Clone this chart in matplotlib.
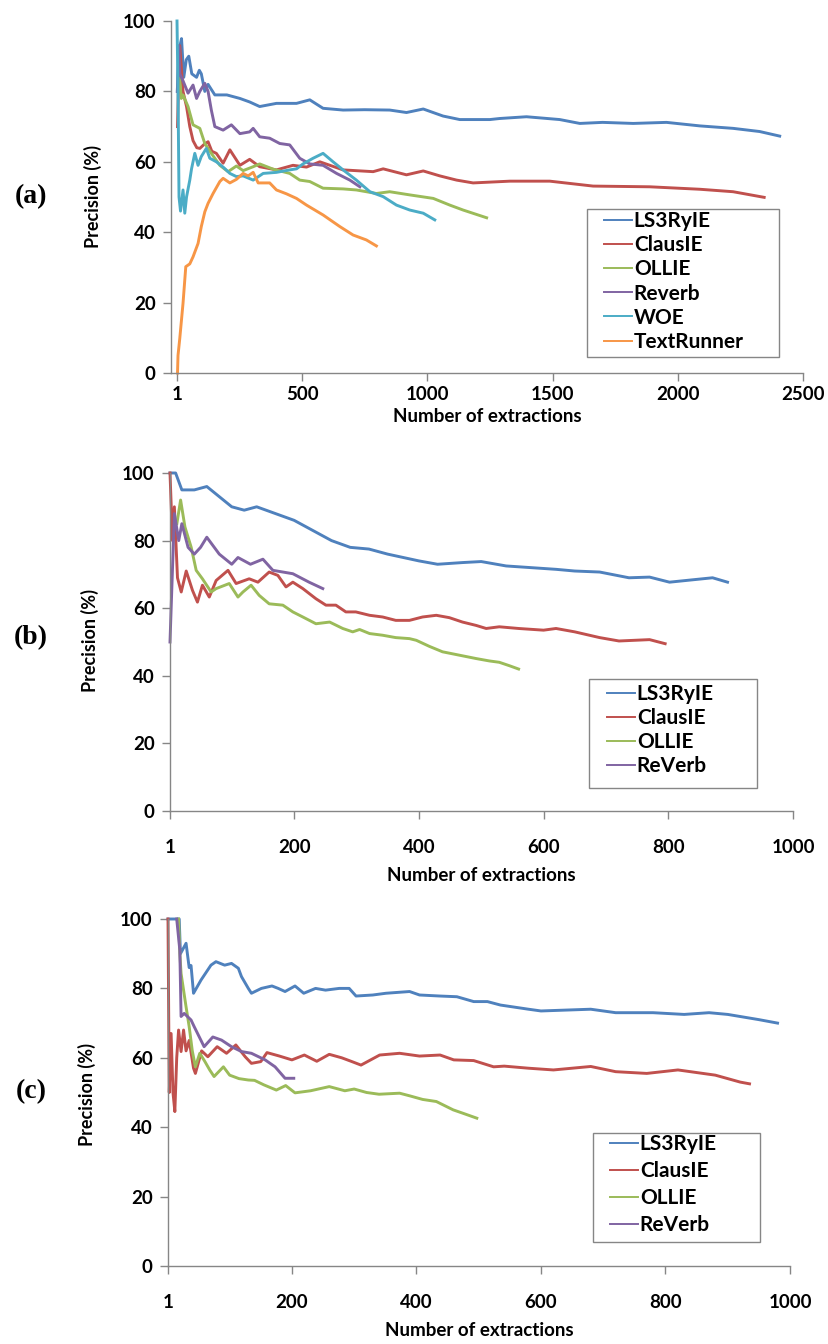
import numpy as np, matplotlib
matplotlib.use('Agg')
import matplotlib.pyplot as plt
from matplotlib.patches import Rectangle

plt.rcParams['font.family'] = ['Lato', 'DejaVu Sans']
plt.rcParams['font.weight'] = 'bold'

BLUE = '#4F81BD'
RED = '#C0504D'
GREEN = '#9BBB59'
PURPLE = '#8064A2'
AQUA = '#4BACC6'
ORANGE = '#F79646'
AXC = '#868686'

# ---- panel (a) ----
a_ls3_x = [2, 10, 19, 28, 38, 48, 60, 79, 90, 98, 112, 125, 152, 200, 252, 291, 331, 398, 478, 531,
           584, 664, 750, 850, 917, 984, 1063, 1130, 1250, 1289, 1396, 1529, 1609, 1700, 1822, 1955,
           2088, 2221, 2327, 2407]
a_ls3_y = [80, 92, 95, 84, 89, 90, 85, 84, 86, 85, 80, 82, 79, 79, 78, 77, 75.7, 76.6, 76.6, 77.6,
           75.2, 74.7, 74.8, 74.7, 74, 75, 73, 72, 72, 72.3, 72.8, 72, 70.9, 71.2, 70.9, 71.2,
           70.2, 69.5, 68.6, 67.3]
a_claus_x = [3, 8, 12, 25, 39, 52, 65, 80, 92, 110, 125, 140, 158, 185, 212, 252, 291, 331, 398, 464,
             518, 571, 664, 784, 824, 917, 984, 1050, 1117, 1183, 1330, 1489, 1662, 1888, 2088, 2221, 2345]
a_claus_y = [70, 85, 93, 80, 75.7, 70, 66, 64, 63.8, 65, 65.7, 63, 62.4, 59.6, 63.4, 59, 60.7, 58.6, 57.7, 59,
             58.5, 60, 57.7, 57.2, 58, 56.3, 57.4, 56, 54.8, 54, 54.5, 54.5, 53.1, 52.9, 52.2, 51.5, 49.9]
a_ollie_x = [10, 18, 25, 45, 65, 92, 112, 138, 172, 205, 238, 265, 305, 331, 385, 451, 491, 531, 584, 664,
             717, 797, 850, 930, 1024, 1090, 1143, 1237]
a_ollie_y = [85, 78, 79, 75.7, 70.5, 69.5, 65.2, 62.4, 59, 57.2, 58.8, 57.5, 58.6, 59.4, 57.9, 56.7, 54.8,
             54.4, 52.5, 52.3, 52, 51, 51.5, 50.6, 49.6, 47.7, 46.3, 44.1]
a_reverb_x = [3, 8, 12, 25, 45, 65, 79, 92, 112, 125, 138, 152, 185, 218, 252, 291, 305, 331, 371, 411,
              451, 491, 531, 584, 638, 691, 731]
a_reverb_y = [80, 93, 85, 83, 79.5, 81.8, 78, 80, 82.3, 80, 74.7, 70, 69, 70.5, 68, 68.5, 69.5, 67.1, 66.7,
              65.2, 64.8, 61, 59.4, 59, 56.7, 54.8, 52.9]
a_woe_x = [1, 5, 9, 15, 25, 32, 39, 52, 59, 72, 85, 98, 118, 132, 158, 185, 212, 238, 265, 305,
           345, 398, 451, 478, 504, 544, 584, 624, 664, 717, 771, 824, 877, 930, 984, 1030]
a_woe_y = [100, 80, 50, 46, 52, 45.4, 50, 54.8, 58, 62.4, 59, 61.5, 63.8, 61, 60, 58.5, 56.7, 55.8, 56, 54.8,
           56.7, 57, 57.7, 58, 59.4, 61, 62.4, 60, 57.7, 54.8, 51.5, 50.1, 47.7, 46.3, 45.4, 43.5]
a_tr_x = [3, 5, 12, 25, 36, 52, 65, 85, 98, 112, 125, 145, 172, 185, 212, 238, 265, 285, 305, 325,
          371, 398, 438, 478, 518, 584, 651, 704, 757, 797]
a_tr_y = [0, 5, 9.8, 19.8, 30.2, 31, 33, 36.8, 41.6, 45.8, 48.2, 51, 54.4, 55.3, 54, 55, 56.7, 56, 57, 54,
          54, 52, 50.9, 49.6, 47.7, 44.9, 41.6, 39.2, 37.8, 36.1]

# ---- panel (b) ----
b_ls3_x = [1, 10, 20, 40, 60, 80, 100, 120, 140, 170, 200, 230, 260, 290, 320, 350, 400, 430, 470, 500,
           540, 580, 620, 650, 690, 737, 770, 802, 839, 871, 895]
b_ls3_y = [100, 100, 95, 95, 96, 93, 90, 89, 90, 88, 86, 83, 80, 78, 77.5, 76, 74, 73, 73.5, 73.8,
           72.5, 72, 71.5, 71, 70.7, 69, 69.2, 67.7, 68.4, 69, 67.7]
b_claus_x = [1, 5, 8, 13, 19, 27, 37, 45, 53, 64, 75, 94, 107, 128, 142, 160, 174, 187, 198, 214,
             235, 251, 267, 283, 299, 321, 342, 363, 385, 406, 428, 449, 470, 492, 508, 529, 560, 600,
             620, 650, 690, 721, 770, 795]
b_claus_y = [100, 80, 90, 69, 64.8, 71, 65.3, 61.8, 66.8, 63.3, 68.2, 71.2, 67.3, 68.7, 67.7, 70.7, 69.7,
             66.3, 67.7, 65.8, 62.8, 60.9, 60.9, 58.9, 58.9, 57.9, 57.4, 56.4, 56.4, 57.4, 57.9, 57.2,
             55.9, 54.9, 54, 54.5, 54, 53.5, 54, 53, 51.3, 50.3, 50.7, 49.5]
b_ollie_x = [12, 18, 25, 35, 43, 53, 67, 75, 96, 110, 118, 131, 144, 160, 182, 198, 214, 235, 257, 278,
             294, 305, 321, 342, 363, 385, 396, 417, 438, 465, 492, 513, 529, 545, 560]
b_ollie_y = [85, 92, 84, 78, 71.2, 68.7, 64.8, 65.8, 67.3, 63.3, 64.8, 66.8, 63.8, 61.3, 60.9, 58.9, 57.4,
             55.4, 55.9, 54, 53, 53.7, 52.5, 52, 51.3, 51, 50.5, 48.7, 47.1, 46.1, 45.1, 44.4, 44, 43, 42]
b_reverb_x = [1, 8, 15, 20, 30, 40, 50, 60, 80, 100, 110, 130, 150, 166, 198, 224, 246]
b_reverb_y = [50, 88, 80, 85, 78, 76, 78, 81, 76, 73, 75, 73, 74.5, 71.2, 70.2, 67.7, 65.8]

# ---- panel (c) ----
c_ls3_x = [1, 19, 21, 30, 35, 38, 42, 54, 70, 78, 92, 103, 114, 119, 130, 135, 151, 168, 178, 189,
           205, 219, 238, 254, 276, 292, 303, 330, 351, 389, 405, 438, 465, 492, 514, 535, 580, 600,
           680, 720, 780, 830, 870, 900, 950, 980]
c_ls3_y = [100, 100, 90, 93, 86, 86.6, 78.6, 82.4, 86.7, 87.7, 86.7, 87.2, 85.8, 83.4, 80, 78.6, 80, 80.7,
           80, 79.1, 80.7, 78.6, 80, 79.5, 80, 80, 77.8, 78.1, 78.6, 79.1, 78.1, 77.8, 77.6, 76.2, 76.2,
           75.2, 74, 73.5, 74, 73, 73, 72.5, 73, 72.5, 71, 70]
c_claus_x = [1, 3, 6, 9, 12, 15, 18, 22, 26, 30, 35, 42, 45, 55, 65, 80, 95, 110, 125, 135,
             150, 160, 180, 200, 220, 240, 260, 280, 295, 311, 341, 373, 405, 438, 460, 492, 524, 541,
             580, 620, 680, 720, 770, 820, 880, 920, 935]
c_claus_y = [100, 50, 67, 50, 44.5, 60, 68, 61.8, 68, 62, 65, 57, 55.5, 62, 60.3, 63.2, 61.3, 63.7, 60.3,
             58.4, 58.9, 61.5, 60.5, 59.4, 60.8, 59, 61, 60, 59, 57.9, 60.8, 61.3, 60.5, 60.8, 59.4, 59.2,
             57.4, 57.6, 57, 56.5, 57.5, 56, 55.5, 56.5, 55, 53, 52.5]
c_ollie_x = [18, 20, 22, 30, 35, 40, 45, 52, 60, 68, 75, 90, 100, 115, 130, 140, 155, 175, 190, 205,
             230, 260, 285, 300, 320, 340, 373, 390, 410, 432, 459, 475, 497]
c_ollie_y = [100, 90, 84.3, 74.7, 69, 62, 57.4, 61.3, 59, 56.5, 54.6, 57.4, 55, 54, 53.6, 53.5, 52.2, 50.7,
             52, 49.9, 50.5, 51.7, 50.5, 51, 50, 49.5, 49.8, 49, 48, 47.4, 45, 44, 42.6]
c_reverb_x = [15, 20, 22, 27, 38, 43, 59, 73, 87, 103, 119, 135, 157, 173, 189, 203]
c_reverb_y = [100, 91, 71.9, 72.8, 70.9, 69, 63.2, 66, 65.1, 63.2, 61.8, 61.3, 59.4, 57.4, 54.1, 54.1]

W, H = 829, 1344
fig = plt.figure(figsize=(W / 100, H / 100), dpi=100)


def px_axes(l, r, t, b):
    return fig.add_axes([l / W, 1 - b / H, (r - l) / W, (b - t) / H])


def style(ax, xlim, xticks, xpad, lpad):
    ax.set_xlim(*xlim)
    ax.set_ylim(0, 100)
    ax.set_xticks(xticks)
    ax.set_yticks(range(0, 101, 20))
    for s in ['top', 'right']:
        ax.spines[s].set_visible(False)
    for s in ['left', 'bottom']:
        ax.spines[s].set_color(AXC)
        ax.spines[s].set_linewidth(1.0)
    ax.tick_params(direction='out', length=6, width=1, color=AXC, labelsize=13.5)
    ax.tick_params(axis='y', pad=5)
    ax.tick_params(axis='x', pad=xpad)
    ax.set_xlabel('Number of extractions', fontsize=13.5, fontweight='bold', labelpad=lpad)


def legend(ax, box, hx, ty, spacing):
    # box = (left, top, right, bottom) of the grey frame in pixels
    l, t, r, b = box
    ax.add_patch(Rectangle((l / W, 1 - b / H), (r - l) / W, (b - t) / H, transform=fig.transFigure,
                           facecolor='white', edgecolor=AXC, lw=1.0, zorder=4, clip_on=False))
    leg = ax.legend(loc='upper left', bbox_to_anchor=(hx / W, 1 - ty / H), bbox_transform=fig.transFigure,
                    fontsize=15, frameon=False, borderpad=0, labelspacing=spacing, handlelength=1.35,
                    handletextpad=0.08, borderaxespad=0)
    leg.set_zorder(6)
    for ln in leg.get_lines():
        ln.set_linewidth(1.4)
    return leg


LW = 2.1

axa = px_axes(171, 803, 21, 373)
axa.plot(a_ls3_x, a_ls3_y, color=BLUE, lw=LW, label='LS3RyIE', clip_on=False)
axa.plot(a_claus_x, a_claus_y, color=RED, lw=LW, label='ClausIE', clip_on=False)
axa.plot(a_ollie_x, a_ollie_y, color=GREEN, lw=LW, label='OLLIE', clip_on=False)
axa.plot(a_reverb_x, a_reverb_y, color=PURPLE, lw=LW, label='Reverb', clip_on=False)
axa.plot(a_woe_x, a_woe_y, color=AQUA, lw=LW, label='WOE', clip_on=False)
axa.plot(a_tr_x, a_tr_y, color=ORANGE, lw=LW, label='TextRunner', clip_on=False)
style(axa, (-23, 2500), [1, 500, 1000, 1500, 2000, 2500], 3, 4)
legend(axa, (587, 209, 779, 357), 604, 211, 0.2)

axb = px_axes(170, 793, 473, 811)
axb.plot(b_ls3_x, b_ls3_y, color=BLUE, lw=LW, label='LS3RyIE', clip_on=False)
axb.plot(b_claus_x, b_claus_y, color=RED, lw=LW, label='ClausIE', clip_on=False)
axb.plot(b_ollie_x, b_ollie_y, color=GREEN, lw=LW, label='OLLIE', clip_on=False)
axb.plot(b_reverb_x, b_reverb_y, color=PURPLE, lw=LW, label='ReVerb', clip_on=False)
style(axb, (1, 1000), [1, 200, 400, 600, 800, 1000], 14, 8)
legend(axb, (589, 679, 757, 788), 607, 684, 0.2)

axc = px_axes(168, 790, 919, 1266)
axc.plot(c_ls3_x, c_ls3_y, color=BLUE, lw=LW, label='LS3RyIE', clip_on=False)
axc.plot(c_claus_x, c_claus_y, color=RED, lw=LW, label='ClausIE', clip_on=False)
axc.plot(c_ollie_x, c_ollie_y, color=GREEN, lw=LW, label='OLLIE', clip_on=False)
axc.plot(c_reverb_x, c_reverb_y, color=PURPLE, lw=LW, label='ReVerb', clip_on=False)
style(axc, (1, 1000), [1, 200, 400, 600, 800, 1000], 14, 8)
legend(axc, (593, 1133, 760, 1242), 610, 1134, 0.34)

for lab, ly, yl, yx in [('(a)', 197, 197, 93), ('(b)', 638, 641, 90), ('(c)', 1092, 1094, 87)]:
    fig.text(31 / W, 1 - ly / H, lab, family='Liberation Serif', fontweight='bold', fontsize=20,
             ha='center', va='center')
    fig.text(yx / W, 1 - yl / H, 'Precision (%)', rotation=90, fontsize=13, fontweight='bold',
             ha='center', va='center')

fig.savefig('out.png', dpi=100)
print('ok')
